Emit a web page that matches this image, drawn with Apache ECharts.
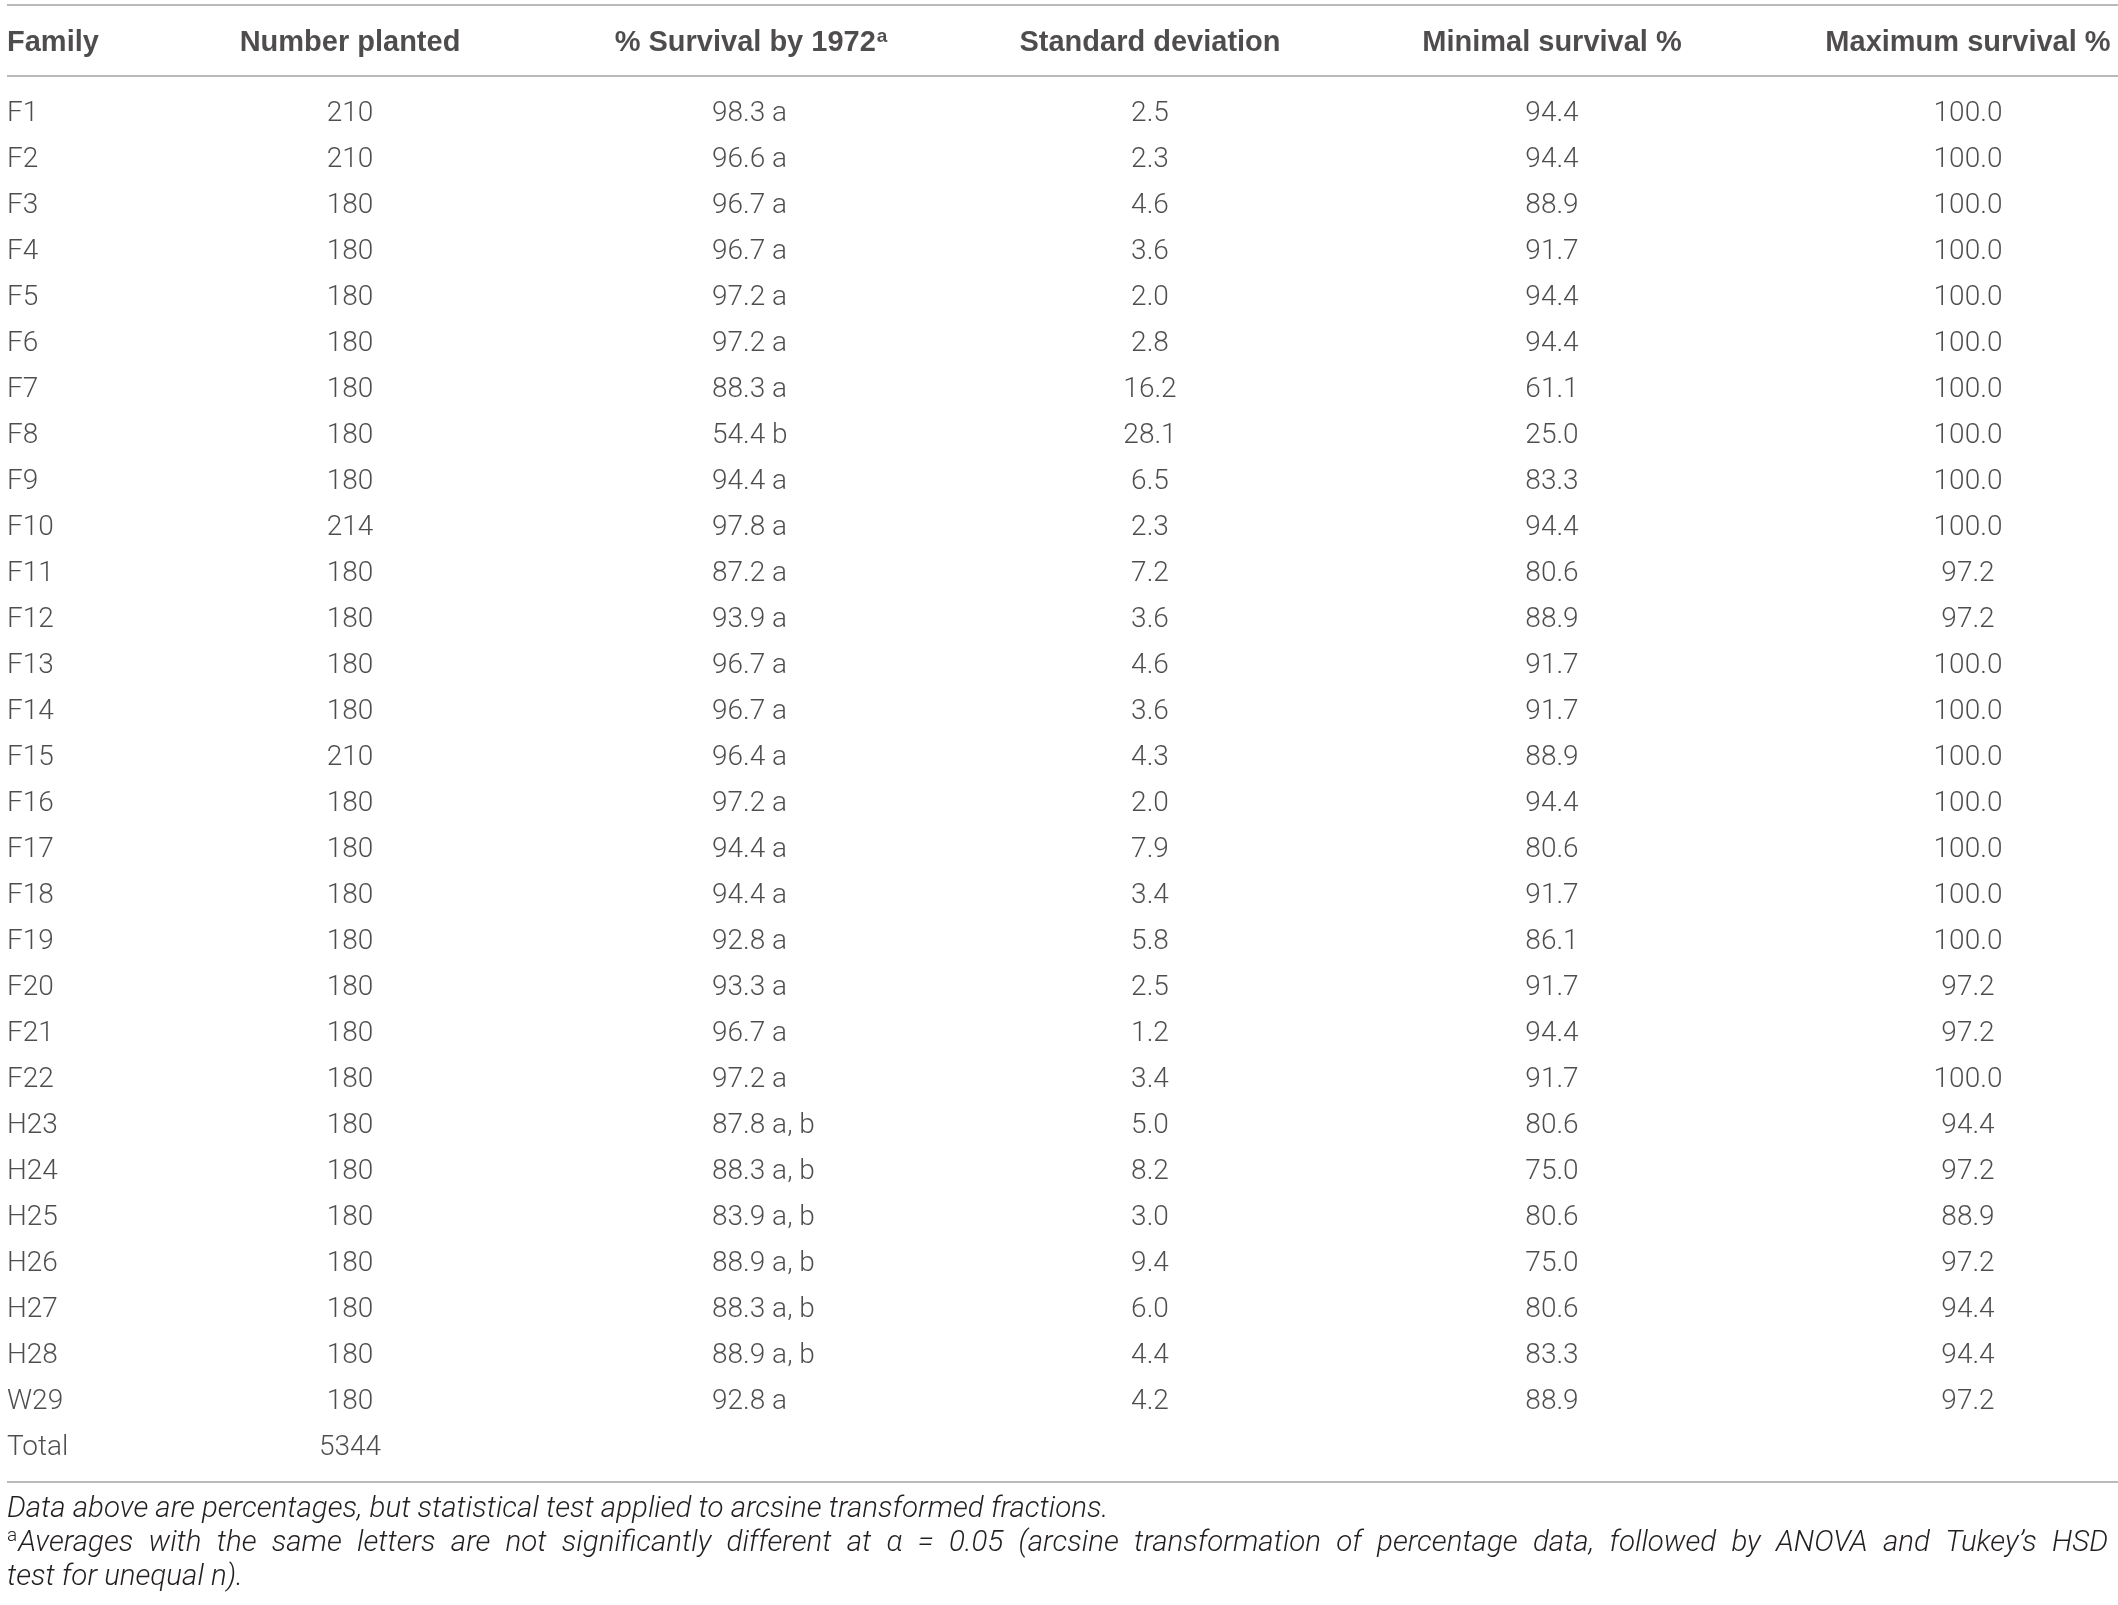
<!DOCTYPE html>
<html>
<head>
<meta charset="utf-8">
<script src="https://cdn.jsdelivr.net/npm/echarts@6/dist/echarts.min.js"></script>
<style>
html,body{margin:0;padding:0;background:#fff;}
#c{width:2118px;height:1605px;}
</style>
</head>
<body>
<div id="c"></div>
<script>
// ---- data ----
var headers = ['Family', 'Number planted', '% Survival by 1972', 'Standard deviation', 'Minimal survival %', 'Maximum survival %'];
var families = ['F1','F2','F3','F4','F5','F6','F7','F8','F9','F10','F11','F12','F13','F14','F15','F16','F17','F18','F19','F20','F21','F22','H23','H24','H25','H26','H27','H28','W29'];
var planted = [210,210,180,180,180,180,180,180,180,214,180,180,180,180,210,180,180,180,180,180,180,180,180,180,180,180,180,180,180];
var survival = [98.3,96.6,96.7,96.7,97.2,97.2,88.3,54.4,94.4,97.8,87.2,93.9,96.7,96.7,96.4,97.2,94.4,94.4,92.8,93.3,96.7,97.2,87.8,88.3,83.9,88.9,88.3,88.9,92.8];
var letters = ['a','a','a','a','a','a','a','b','a','a','a','a','a','a','a','a','a','a','a','a','a','a','a, b','a, b','a, b','a, b','a, b','a, b','a'];
var stdDev = [2.5,2.3,4.6,3.6,2.0,2.8,16.2,28.1,6.5,2.3,7.2,3.6,4.6,3.6,4.3,2.0,7.9,3.4,5.8,2.5,1.2,3.4,5.0,8.2,3.0,9.4,6.0,4.4,4.2];
var minSurv = [94.4,94.4,88.9,91.7,94.4,94.4,61.1,25.0,83.3,94.4,80.6,88.9,91.7,91.7,88.9,94.4,80.6,91.7,86.1,91.7,94.4,91.7,80.6,75.0,80.6,75.0,80.6,83.3,88.9];
var maxSurv = [100.0,100.0,100.0,100.0,100.0,100.0,100.0,100.0,100.0,100.0,97.2,97.2,100.0,100.0,100.0,100.0,100.0,100.0,100.0,97.2,97.2,100.0,94.4,97.2,88.9,97.2,94.4,94.4,97.2];
var totalLabel = 'Total';
var totalPlanted = 5344;
var footnote1 = 'Data above are percentages, but statistical test applied to arcsine transformed fractions.';
var footnote2 = 'Averages with the same letters are not significantly different at \u03b1 = 0.05 (arcsine transformation of percentage data, followed by ANOVA and Tukey\u2019s HSD';
var footnote3 = 'test for unequal n).';

// ---- layout (not data) ----
var W = 2118;
var colX = {family: 7, planted: 350, survHead: 751, survVal: 712, sd: 1150, min: 1552, max: 1968};
var TXT = '#231f20';
var bodyFont = {fontFamily: 'Roboto', fontWeight: 300, fontSize: 28, color: TXT};
var headFont = {fontFamily: 'Liberation Sans', fontWeight: 'bold', fontSize: 29, color: TXT};

var rowNames = families.concat([totalLabel]);
var nRows = rowNames.length;
var rowH = 46;
var bodyTop = 91;

function f1(v){ return v.toFixed(1); }

function colSeries(name, x, texts, align){
  return {
    name: name, type: 'scatter', xAxisIndex: 1, yAxisIndex: 1,
    symbolSize: 1, itemStyle: {color: 'rgba(0,0,0,0)'}, silent: true,
    data: texts.map(function(t, i){ return [x, i, t]; }),
    label: Object.assign({show: true, position: 'inside', align: align, verticalAlign: 'middle',
      formatter: function(p){ return p.value[2]; }}, bodyFont),
    emphasis: {disabled: true}
  };
}

var famTexts = rowNames.slice();
var plantedTexts = planted.map(String).concat([String(totalPlanted)]);
var survTexts = survival.map(function(v, i){ return f1(v) + ' ' + letters[i]; });
var sdTexts = stdDev.map(f1);
var minTexts = minSurv.map(f1);
var maxTexts = maxSurv.map(f1);

var headerX = [colX.family, colX.planted, colX.survHead, colX.sd, colX.min, colX.max];
var headerData = headers.map(function(h, i){
  return {value: [headerX[i], 0, i === 2 ? h + '{sup|a}' : h], label: {align: i === 0 ? 'left' : 'center'}};
});

var chart = echarts.init(document.getElementById('c'), null, {renderer: 'canvas'});

// footnote graphics (text layout, justified line 2)
var ctx = document.createElement('canvas').getContext('2d');
var fnFont = 'italic 300 29.5px Roboto';
ctx.font = fnFont;
var graphics = [];
var ruleStyle = {stroke: '#a3a3a3', lineWidth: 1.5};
[5, 76, 1482].forEach(function(y){
  graphics.push({type: 'line', shape: {x1: 7, y1: y, x2: W, y2: y}, style: ruleStyle, silent: true});
});
graphics.push({type: 'text', style: {text: footnote1, x: 7, y: 1510, font: fnFont, fill: TXT, verticalAlign: 'middle', textVerticalAlign: 'middle'}, silent: true});
graphics.push({type: 'text', style: {text: footnote3, x: 7, y: 1578, font: fnFont, fill: TXT, verticalAlign: 'middle', textVerticalAlign: 'middle'}, silent: true});
// superscript a
var supFont = '300 19px Roboto';
ctx.font = supFont;
var supW = ctx.measureText('a').width;
graphics.push({type: 'text', style: {text: 'a', x: 7, y: 1536, font: supFont, fill: TXT, verticalAlign: 'middle', textVerticalAlign: 'middle'}, silent: true});
ctx.font = fnFont;
var words = footnote2.split(' ');
var widths = words.map(function(w){ return ctx.measureText(w).width; });
var startX = 7 + supW + 1, endX = 2108;
var sumW = widths.reduce(function(a, b){ return a + b; }, 0);
var gap = (endX - startX - sumW) / (words.length - 1);
var cx = startX;
words.forEach(function(w, i){
  graphics.push({type: 'text', style: {text: w, x: cx, y: 1544, font: fnFont, fill: TXT, verticalAlign: 'middle', textVerticalAlign: 'middle'}, silent: true});
  cx += widths[i] + gap;
});

var option = {
  animation: false,
  backgroundColor: '#fff',
  grid: [
    {left: 0, right: 0, top: 8, height: 70},
    {left: 0, right: 0, top: bodyTop, height: rowH * nRows}
  ],
  xAxis: [
    {type: 'value', gridIndex: 0, min: 0, max: W, show: false},
    {type: 'value', gridIndex: 1, min: 0, max: W, show: false}
  ],
  yAxis: [
    {type: 'category', gridIndex: 0, data: ['header'], show: false},
    {type: 'category', gridIndex: 1, data: rowNames, inverse: true, show: false}
  ],
  series: [
    {
      name: 'header', type: 'scatter', xAxisIndex: 0, yAxisIndex: 0,
      symbolSize: 1, itemStyle: {color: 'rgba(0,0,0,0)'}, silent: true,
      data: headerData,
      label: Object.assign({show: true, position: 'inside', verticalAlign: 'middle',
        formatter: function(p){ return p.value[2]; },
        rich: {sup: {fontFamily: 'Liberation Sans', fontWeight: 'bold', fontSize: 19, color: TXT, verticalAlign: 'top', padding: [0, 0, 12, 1]}}
      }, headFont),
      emphasis: {disabled: true}
    },
    colSeries('family', colX.family, famTexts, 'left'),
    colSeries('planted', colX.planted, plantedTexts, 'center'),
    colSeries('survival', colX.survVal, survTexts, 'left'),
    colSeries('sd', colX.sd, sdTexts, 'center'),
    colSeries('min', colX.min, minTexts, 'center'),
    colSeries('max', colX.max, maxTexts, 'center')
  ],
  graphic: graphics
};
chart.setOption(option);
</script>
</body>
</html>
